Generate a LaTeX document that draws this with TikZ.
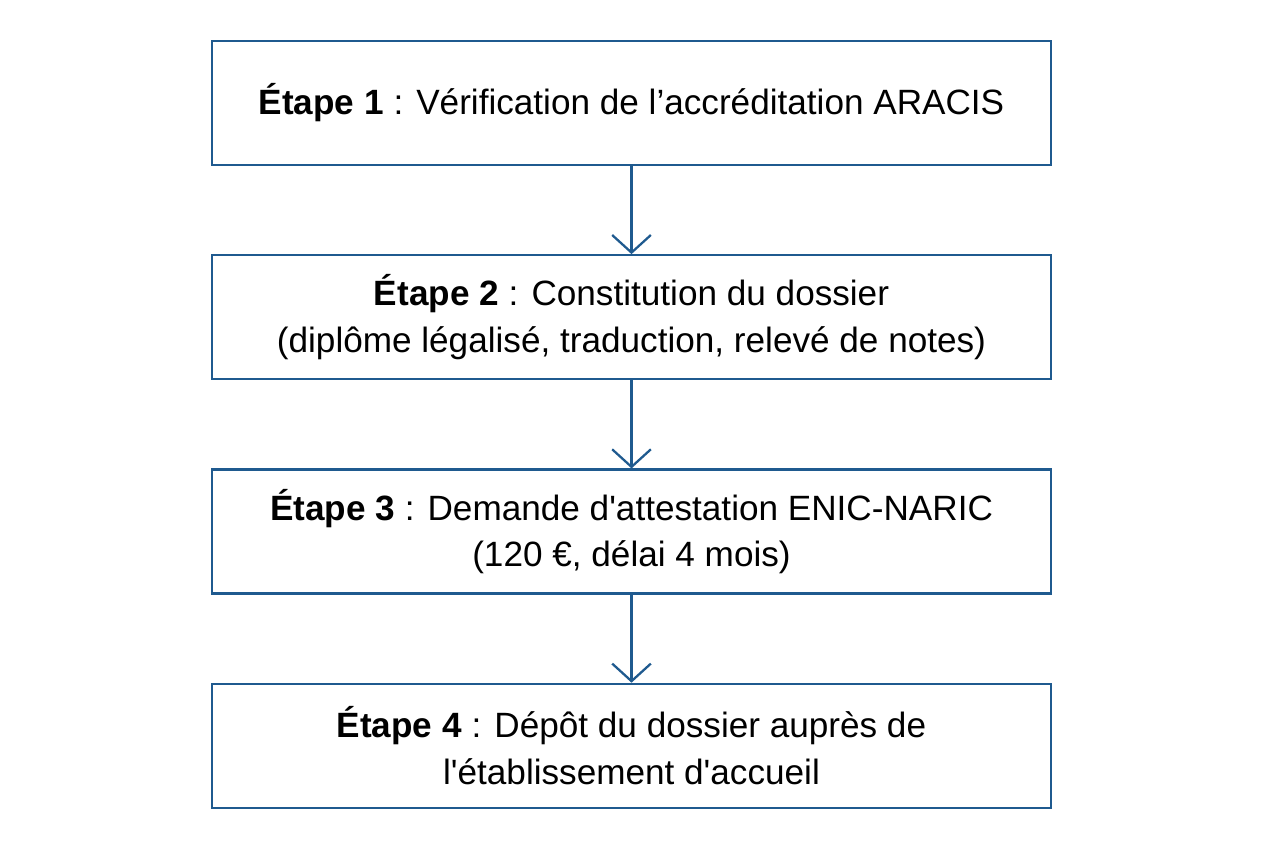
\documentclass[tikz,border=0pt]{standalone}
\usepackage{fontspec}
\setmainfont{Liberation Sans}[Ligatures=TeXOff]
\usetikzlibrary{positioning,arrows.meta}

\tikzset{
	stepbox/.style={draw=stepblue,line width=1.3pt,minimum width=16.78cm,minimum height=2.48cm,align=center,font=\fontsize{20}{26.5}\selectfont},
	link/.style={draw=stepblue,line width=1.3pt,-{Straight Barb[length=10pt,width=22pt,line width=1.3pt]}}
}
\definecolor{stepblue}{HTML}{1F5A8F}

\begin{document}
\begin{tikzpicture}
	\useasboundingbox (0,0) rectangle (25.28,-16.96);
	%boxes
	\node[stepbox] (s1) at (12.63,-2.06) {\textbf{Étape 1} : Vérification de l’accréditation ARACIS};
	\node[stepbox, below=1.76cm of s1] (s2) {\textbf{Étape 2} : Constitution du dossier\\(diplôme légalisé, traduction, relevé de notes)};
	\node[stepbox, below=1.76cm of s2] (s3) {\textbf{Étape 3} : Demande d'attestation ENIC-NARIC\\(120 €, délai 4 mois)};
	\node[stepbox, below=1.76cm of s3] (s4) {\textbf{Étape 4} : Dépôt du dossier auprès de\\l'établissement d'accueil};
	%arrows
	\draw[link] (s1) -- (s2);
	\draw[link] (s2) -- (s3);
	\draw[link] (s3) -- (s4);
\end{tikzpicture}
\end{document}
